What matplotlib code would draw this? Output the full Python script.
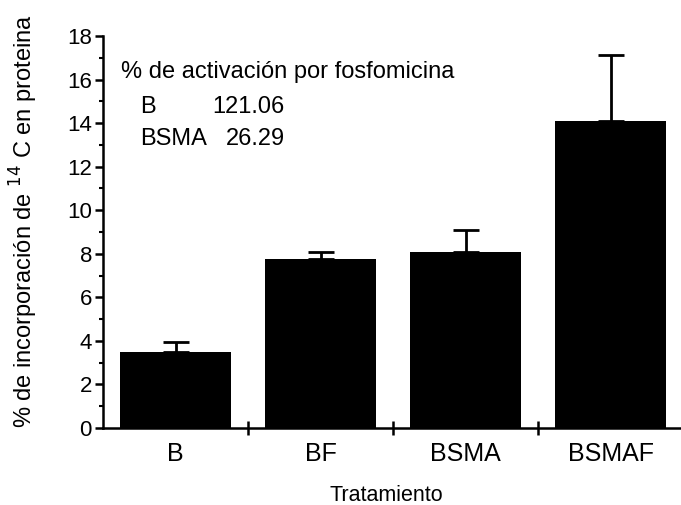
import numpy as np
import matplotlib
matplotlib.use('Agg')
import matplotlib.pyplot as plt
from matplotlib.ticker import MultipleLocator

plt.rcParams['font.family'] = ['Liberation Sans', 'DejaVu Sans']

# datos
tratamientos = ['B', 'BF', 'BSMA', 'BSMAF']
incorporacion = [3.48, 7.77, 8.08, 14.1]
error_sup = [0.47, 0.33, 1.0, 3.05]

activacion_labels = ['B', 'BSMA']
activacion_vals = ['121.06', '26.29']

fig = plt.figure(figsize=(6.81, 5.05), dpi=100)
ax = fig.add_axes([103 / 681, 77 / 505, 580 / 681, 392 / 505])

x = np.arange(len(tratamientos))
ax.bar(x, incorporacion, width=0.77, color='black', zorder=2)
ax.errorbar(x, incorporacion, yerr=[np.zeros(len(x)), error_sup], fmt='none',
            ecolor='black', elinewidth=2, capsize=9.5, capthick=2, zorder=1)

ax.set_xlim(-0.5, 3.5)
ax.set_ylim(0, 18)
ax.spines['top'].set_visible(False)
ax.spines['right'].set_visible(False)
ax.spines['left'].set_linewidth(1.8)
ax.spines['bottom'].set_linewidth(1.8)
ax.spines['bottom'].set_zorder(3)

ax.yaxis.set_major_locator(MultipleLocator(2))
ax.yaxis.set_minor_locator(MultipleLocator(1))
ax.tick_params(axis='y', which='major', length=6, width=1.8, labelsize=16, pad=2)
ax.tick_params(axis='y', which='minor', length=3, width=1.5)

# marcas del eje x entre categorías
ax.set_xticks([0.5, 1.5, 2.5], minor=True)
ax.set_xticks(x)
ax.set_xticklabels(tratamientos, fontsize=18)
ax.tick_params(axis='x', which='major', length=0, pad=10)
ax.tick_params(axis='x', which='minor', direction='inout', length=10, width=1.8)

ax.set_xlabel('Tratamiento', fontsize=15.5)
ax.xaxis.set_label_coords(0.488, -0.145)
ax.set_ylabel('% de incorporación de $^{14}$ C en proteina', fontsize=17)
ax.yaxis.set_label_coords(-0.108, 0.528)

# recuadro de texto con el % de activación
ax.text(-0.376, 16.33, '% de activación por fosfomicina',
        fontsize=17, va='center', ha='left')
for i, (lab, val) in enumerate(zip(activacion_labels, activacion_vals)):
    yy = 14.75 - 1.5 * i
    ax.text(-0.245, yy, lab, fontsize=17, va='center', ha='left')
    ax.text(0.755, yy, val, fontsize=17, va='center', ha='right')

fig.savefig('out.png', dpi=100)
